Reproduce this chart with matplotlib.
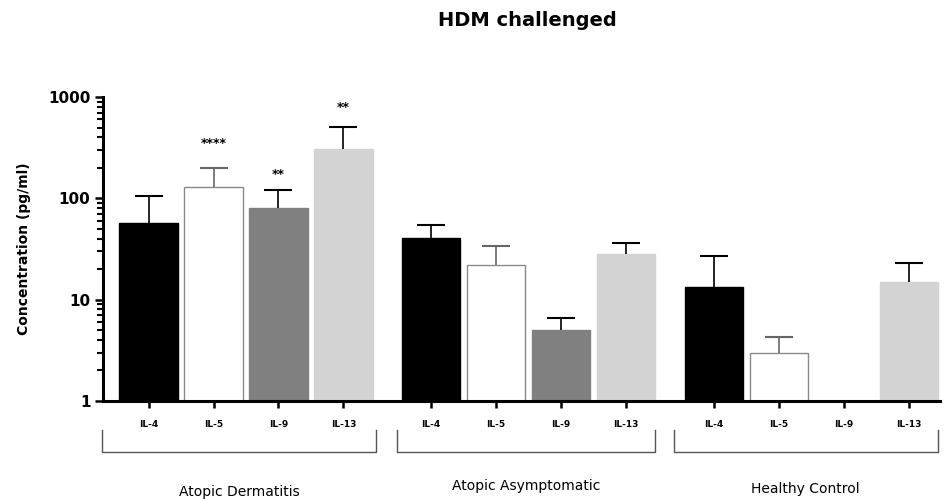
import numpy as np
import matplotlib.pyplot as plt
from matplotlib.transforms import blended_transform_factory

# Cytokine concentrations (pg/ml), mean and upper error
cytokines = ["IL-4", "IL-5", "IL-9", "IL-13"]
groups = ["Atopic Dermatitis", "Atopic Asymptomatic", "Healthy Control"]

ad_mean = [57, 130, 80, 307]
ad_err = [48, 71, 40, 203]
aa_mean = [40.6, 22, 5.0, 28.3]
aa_err = [14, 12, 1.6, 7.7]
hc_mean = [13.3, 2.96, np.nan, 15]
hc_err = [13.7, 1.34, np.nan, 8.2]

# significance stars over the Atopic Dermatitis bars
stars = ["", "****", "**", "**"]

means = [ad_mean, aa_mean, hc_mean]
errs = [ad_err, aa_err, hc_err]

face = ["black", "white", "#808080", "#d3d3d3"]
edge = ["black", "#8a8a8a", "#808080", "#d3d3d3"]
ecol = ["black", "#666666", "black", "black"]
star_pad = [0, 13, 7, 9]

fig = plt.figure(figsize=(9.47, 4.99), dpi=100)
ax = fig.add_axes([0.1088, 0.1964, 0.8838, 0.6092])

group_step = 4.35
width = 0.9
xticks, xlabels = [], []
for g, (m, e) in enumerate(zip(means, errs)):
    for i in range(4):
        x = g * group_step + i
        xticks.append(x)
        xlabels.append(cytokines[i])
        if np.isnan(m[i]):
            continue
        ax.bar(x, m[i], width=width, bottom=0.0, color=face[i],
               edgecolor=edge[i], linewidth=1.0, zorder=2)
        eb = ax.errorbar(x, m[i], yerr=[[0], [e[i]]], fmt="none", ecolor=ecol[i],
                         elinewidth=1.2, capsize=10, capthick=1.5, zorder=3)
        # only the upper cap is wanted
        eb[1][0].set_visible(False)
        if g == 0 and stars[i]:
            ax.annotate(stars[i], (x, m[i] + e[i]), xytext=(0, star_pad[i]),
                        textcoords="offset points", ha="center", va="bottom",
                        fontsize=9, fontweight="bold")

ax.set_yscale("log")
ax.set_ylim(1, 1000)
ax.set_xlim(-0.7, 12.18)
ax.set_yticks([1, 10, 100, 1000])
ax.set_yticklabels(["1", "10", "100", "1000"], fontsize=11, fontweight="bold")
ax.set_xticks(xticks)
ax.set_xticklabels(xlabels, fontsize=6.5, fontweight="bold")

ax.spines["top"].set_visible(False)
ax.spines["right"].set_visible(False)
ax.spines["left"].set_linewidth(2.2)
ax.spines["bottom"].set_linewidth(2.2)
ax.tick_params(axis="y", which="major", length=6, width=1.8, pad=3)
ax.tick_params(axis="y", which="minor", length=4, width=1.5)
ax.tick_params(axis="x", length=5, width=1.8, pad=9)

ax.set_ylabel("Concentration (pg/ml)", fontsize=10, fontweight="bold", labelpad=12)
fig.text(0.557, 0.958, "HDM challenged", ha="center", va="center",
         fontsize=14, fontweight="bold")

# brackets and group names under the x axis
trans = blended_transform_factory(ax.transData, ax.transAxes)
spans = [(-0.71, 3.5), (group_step - 0.53, group_step + 3.45),
         (2 * group_step - 0.62, 2 * group_step + 3.45)]
y_top, y_bot = -0.095, -0.168
for (x0, x1), name, ly in zip(spans, groups, [-0.298, -0.28, -0.29]):
    ax.plot([x0, x0, x1, x1], [y_top, y_bot, y_bot, y_top], color="#555555",
            linewidth=1.0, transform=trans, clip_on=False)
    ax.text((x0 + x1) / 2, ly, name, transform=trans, ha="center", va="center",
            fontsize=10)

fig.savefig("out.png", dpi=100)
